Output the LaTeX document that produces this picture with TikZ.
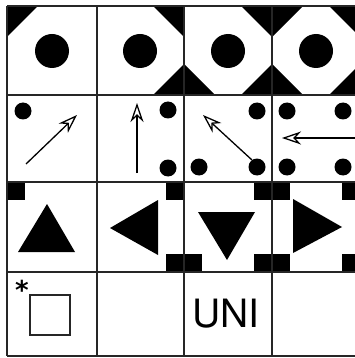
\documentclass[tikz,border=0pt]{standalone}
\usepackage{fontspec}
\newfontfamily\helv{TeX Gyre Heros}
\newfontfamily\djv{DejaVu Sans}
\usetikzlibrary{arrows.meta}
\begin{document}
\begin{tikzpicture}[x=1pt,y=-1pt,
  gridline/.style={line width=1.4pt, black!85},
  blk/.style={fill=black},
  arr/.style={line width=1.3pt, -{Stealth[open,length=19pt,width=13pt,inset=6pt,line width=1.3pt]}},
  lbl/.style={inner sep=0pt, font=\helv\fontsize{39}{39}\selectfont},
  star/.style={inner sep=0pt, anchor=north, font=\djv\bfseries\fontsize{26}{26}\selectfont}
]
\useasboundingbox (0,0) rectangle (355,358);
\clip (0,0) rectangle (355,358);
\fill[white] (0,0) rectangle (355,358);

% ---- row 1: corner triangles and big dots
\fill[blk] (7,6) -- (38,6) -- (7,37) -- cycle;
\fill[blk] (184,6) -- (153,6) -- (184,37) -- cycle;
\fill[blk] (184,95) -- (153,95) -- (184,64) -- cycle;
\fill[blk] (272,6) -- (241,6) -- (272,37) -- cycle;
\fill[blk] (184,95) -- (215,95) -- (184,64) -- cycle;
\fill[blk] (272,95) -- (241,95) -- (272,64) -- cycle;
\fill[blk] (272,6) -- (303,6) -- (272,37) -- cycle;
\fill[blk] (360,6) -- (329,6) -- (360,37) -- cycle;
\fill[blk] (272,95) -- (303,95) -- (272,64) -- cycle;
\fill[blk] (360,95) -- (329,95) -- (360,64) -- cycle;
\foreach \cx in {52,140,228,316} \fill[blk] (\cx,51) circle (17);

% ---- row 2: small dots and arrows
\foreach \p in {(23,111),(168,110),(168,168),(257,111),(199,167),(257,167),(287,111),(343,111),(287,167),(343,167)}
  \fill[blk] \p circle (8.5);
\coordinate (a1s) at (26,164); \coordinate (a1e) at (77,115);
\coordinate (a2s) at (137,173); \coordinate (a2e) at (137,103);
\coordinate (a3s) at (252,160); \coordinate (a3e) at (203,115);
\coordinate (a4s) at (362,138); \coordinate (a4e) at (282,138);
\draw[arr] (a1s) -- (a1e);
\draw[arr] (a2s) -- (a2e);
\draw[arr] (a3s) -- (a3e);
\draw[arr] (a4s) -- (a4e);

% ---- row 3: corner squares and triangles
\fill[blk] (7,182) rectangle (25,200);
\fill[blk] (166,182) rectangle (184,200);
\fill[blk] (166,254) rectangle (184,272);
\fill[blk] (254,182) rectangle (272,200);
\fill[blk] (184,254) rectangle (202,272);
\fill[blk] (254,254) rectangle (272,272);
\fill[blk] (272,182) rectangle (290,200);
\fill[blk] (342,182) rectangle (360,200);
\fill[blk] (272,254) rectangle (290,272);
\fill[blk] (342,254) rectangle (360,272);
\fill[blk] (47,204) -- (18,252) -- (75,252) -- cycle;
\fill[blk] (110,228) -- (158,200) -- (158,255) -- cycle;
\fill[blk] (198,212) -- (255,212) -- (227,260) -- cycle;
\fill[blk] (293,199) -- (293,253) -- (342,227) -- cycle;

% ---- row 4
\node[star] (ast) at (22,280) {*};
\draw[line width=1.2pt, black!85] (30,295) rectangle (70,335);
\node[lbl] (uni) at (226,314) {UNI};

% ---- grid
\foreach \x in {7,97,184,272} \draw[gridline] (\x,6) -- (\x,356);
\foreach \y in {6,95,182,272,356} \draw[gridline] (7,\y) -- (360,\y);
\end{tikzpicture}
\end{document}
